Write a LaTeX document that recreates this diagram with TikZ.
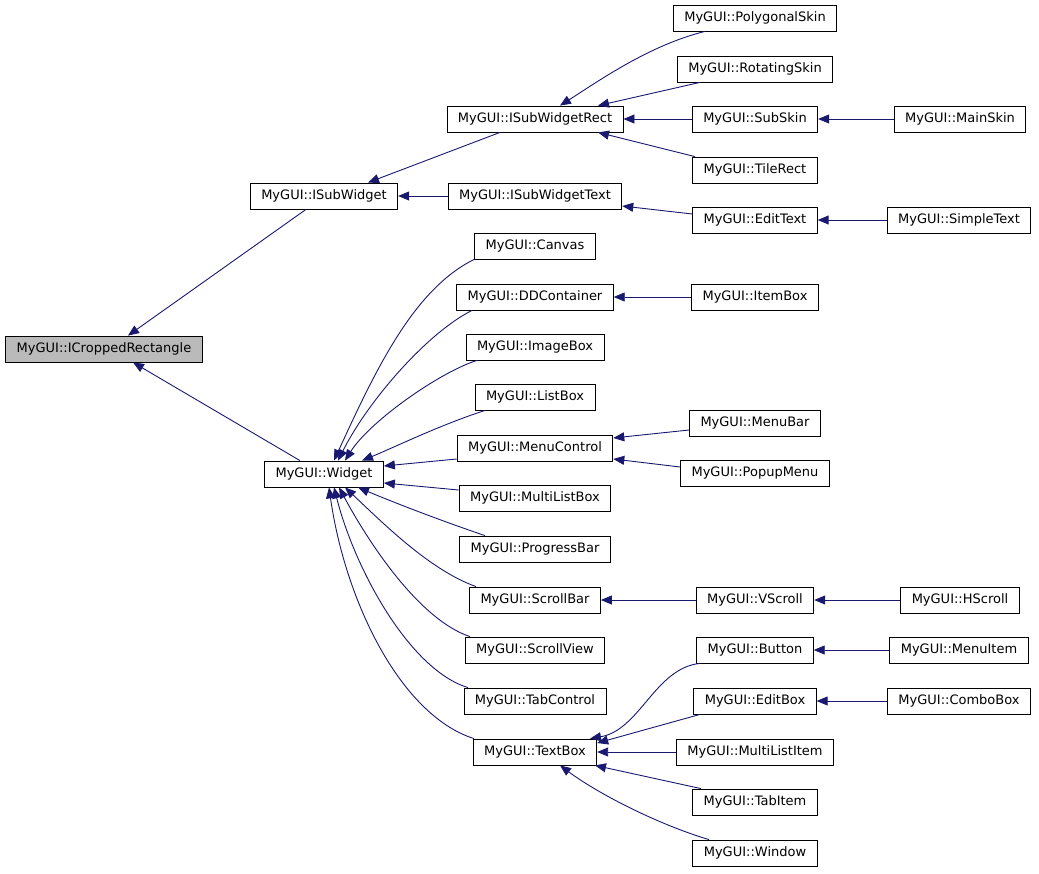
\documentclass[tikz,border=0pt]{standalone}
\usepackage{fontspec}
\setmainfont{DejaVu Sans}
\usetikzlibrary{arrows.meta}
\definecolor{edgeblue}{RGB}{25,25,112}
\tikzset{
	cls/.style={draw=black, fill=white, line width=0.8pt, inner xsep=11pt, inner ysep=0pt, minimum height=26pt, font=\fontsize{13}{15}\selectfont},
	basecls/.style={cls, fill=black!27},
	inh/.style={edgeblue, line width=0.9pt, {Triangle[length=11pt,width=9pt]}-},
}
\begin{document}
\begin{tikzpicture}[x=1pt,y=-1pt]
			\useasboundingbox (0,0) rectangle (1039,873);
			\node[basecls] (icr) at (104,349) {MyGUI::ICroppedRectangle};
			\node[cls] (isw) at (324,196) {MyGUI::ISubWidget};
			\node[cls] (widget) at (324,474) {MyGUI::Widget};
			\node[cls] (iswr) at (535,119) {MyGUI::ISubWidgetRect};
			\node[cls] (iswt) at (535,196) {MyGUI::ISubWidgetText};
			\node[cls] (canvas) at (535,246) {MyGUI::Canvas};
			\node[cls] (ddc) at (535,297) {MyGUI::DDContainer};
			\node[cls] (imagebox) at (535,347) {MyGUI::ImageBox};
			\node[cls] (listbox) at (535,397) {MyGUI::ListBox};
			\node[cls] (menuctrl) at (535,448) {MyGUI::MenuControl};
			\node[cls] (mlbox) at (535,498) {MyGUI::MultiListBox};
			\node[cls] (progress) at (535,549) {MyGUI::ProgressBar};
			\node[cls] (scrollbar) at (535,600) {MyGUI::ScrollBar};
			\node[cls] (scrollview) at (535,650) {MyGUI::ScrollView};
			\node[cls] (tabctrl) at (535,701) {MyGUI::TabControl};
			\node[cls] (textbox) at (535,752) {MyGUI::TextBox};
			\node[cls] (polyskin) at (755,18) {MyGUI::PolygonalSkin};
			\node[cls] (rotskin) at (755,69) {MyGUI::RotatingSkin};
			\node[cls] (subskin) at (755,119) {MyGUI::SubSkin};
			\node[cls] (tilerect) at (755,170) {MyGUI::TileRect};
			\node[cls] (edittext) at (755,220) {MyGUI::EditText};
			\node[cls] (itembox) at (755,297) {MyGUI::ItemBox};
			\node[cls] (menubar) at (755,423) {MyGUI::MenuBar};
			\node[cls] (popup) at (755,473) {MyGUI::PopupMenu};
			\node[cls] (vscroll) at (755,600) {MyGUI::VScroll};
			\node[cls] (button) at (755,650) {MyGUI::Button};
			\node[cls] (editbox) at (755,701) {MyGUI::EditBox};
			\node[cls] (mlitem) at (755,752) {MyGUI::MultiListItem};
			\node[cls] (tabitem) at (755,802) {MyGUI::TabItem};
			\node[cls] (window) at (755,853) {MyGUI::Window};
			\node[cls] (mainskin) at (960,119) {MyGUI::MainSkin};
			\node[cls] (simpletext) at (959,220) {MyGUI::SimpleText};
			\node[cls] (hscroll) at (960,600) {MyGUI::HScroll};
			\node[cls] (menuitem) at (959,650) {MyGUI::MenuItem};
			\node[cls] (combobox) at (959,701) {MyGUI::ComboBox};
			\draw[inh] ([xshift=24pt]icr.north) -- ([xshift=-18pt]isw.south);
			\draw[inh] ([xshift=29pt]icr.south) -- ([xshift=-24pt]widget.north);
			\draw[inh] ([xshift=44pt]isw.north) -- ([xshift=-35pt]iswr.south);
			\draw[inh] (isw.east) -- (iswt.west);
			\draw[inh] ([xshift=25pt]iswr.north) .. controls (600,80) and (650,45) .. ([xshift=-50pt]polyskin.south);
			\draw[inh] ([xshift=63pt]iswr.north) -- ([xshift=-55pt]rotskin.south);
			\draw[inh] (iswr.east) -- (subskin.west);
			\draw[inh] ([xshift=63pt]iswr.south) -- ([xshift=-60pt]tilerect.north);
			\draw[inh] (subskin.east) -- (mainskin.west);
			\draw[inh] ([yshift=-10pt]iswt.east) -- ([yshift=6pt]edittext.west);
			\draw[inh] (edittext.east) -- (simpletext.west);
			\draw[inh] ([xshift=10pt]widget.north) .. controls (376,369) and (414,289) .. (canvas.south west);
			\draw[inh] ([xshift=14pt]widget.north) .. controls (368,401) and (427,333) .. ([xshift=-63pt]ddc.south);
			\draw[inh] ([xshift=21pt]widget.north) .. controls (370,421) and (440,372) .. ([xshift=-58pt]imagebox.south);
			\draw[inh] ([xshift=38pt]widget.north) .. controls (395,447) and (440,425) .. ([xshift=-50pt]listbox.south);
			\draw[inh] ([yshift=8pt]widget.east) -- ([yshift=-11pt]menuctrl.west);
			\draw[inh] ([yshift=-9pt]widget.east) -- ([yshift=8pt]mlbox.west);
			\draw[inh] ([xshift=34pt]widget.south) .. controls (400,505) and (445,522) .. ([xshift=-50pt]progress.north);
			\draw[inh] ([xshift=21pt]widget.south) .. controls (385,525) and (430,570) .. ([xshift=-59pt]scrollbar.north);
			\draw[inh] ([xshift=15pt]widget.south) .. controls (370,545) and (420,620) .. ([xshift=-65pt]scrollview.north);
			\draw[inh] ([xshift=10pt]widget.south) .. controls (355,570) and (410,670) .. ([xshift=-67pt]tabctrl.north);
			\draw[inh] ([xshift=5pt]widget.south) .. controls (345,600) and (400,715) .. ([xshift=-61pt]textbox.north);
			\draw[inh] (ddc.east) -- (itembox.west);
			\draw[inh] ([yshift=10pt]menuctrl.east) -- ([yshift=-7pt]menubar.west);
			\draw[inh] ([yshift=-11pt]menuctrl.east) -- ([yshift=6pt]popup.west);
			\draw[inh] (scrollbar.east) -- (vscroll.west);
			\draw[inh] (vscroll.east) -- (hscroll.west);
			\draw[inh] ([xshift=55pt]textbox.north) .. controls (640,730) and (655,668) .. ([xshift=-55pt]button.south);
			\draw[inh] ([yshift=9pt]textbox.east) -- ([xshift=-55pt]editbox.south);
			\draw[inh] (textbox.east) -- (mlitem.west);
			\draw[inh] ([xshift=60pt]textbox.south) -- ([xshift=-54pt]tabitem.north);
			\draw[inh] ([xshift=25pt]textbox.south) .. controls (600,795) and (660,825) .. ([xshift=-46pt]window.north);
			\draw[inh] (button.east) -- (menuitem.west);
			\draw[inh] (editbox.east) -- (combobox.west);
\end{tikzpicture}
\end{document}
